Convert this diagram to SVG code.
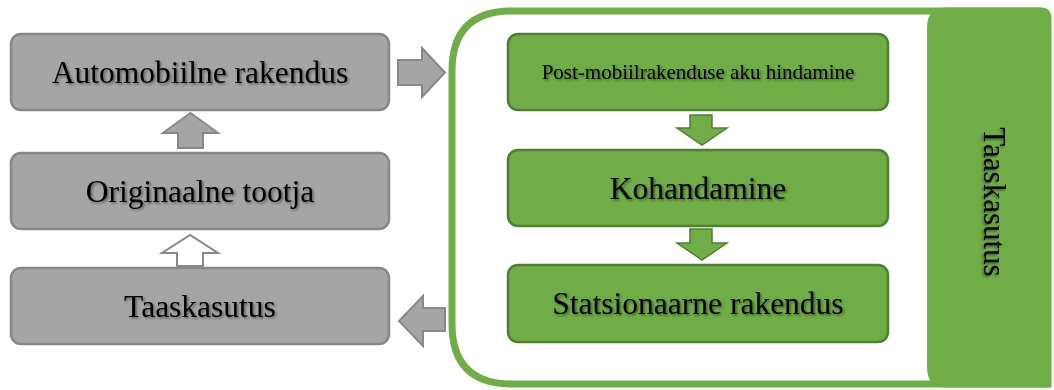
<svg xmlns="http://www.w3.org/2000/svg" width="1054" height="390" viewBox="0 0 1054 390">
<defs>
<style>
.gbox{fill:#A5A5A5;stroke:#888888;stroke-width:2.5}
.gnbox{fill:#70AD47;stroke:#507E32;stroke-width:2.5}
.garr{fill:#A5A5A5;stroke:#888888;stroke-width:2}
.warr{fill:#FFFFFF;stroke:#888888;stroke-width:2}
.gnarr{fill:#70AD47;stroke:#507E32;stroke-width:1.5}
.t{font-family:"Liberation Serif","Times New Roman",serif;fill:#000;text-anchor:middle;filter:url(#sh)}
</style>
<filter id="sh" x="-10%" y="-30%" width="120%" height="160%">
<feDropShadow dx="1.5" dy="1.5" stdDeviation="1.2" flood-color="#000" flood-opacity="0.45"/>
</filter>
</defs>
<rect width="1054" height="390" fill="#FFFFFF"/>
<g id="container">
<path d="M512,11 H1040 Q1048,11 1048,19 V384 H512 Q452,384 452,324 V71 Q452,11 512,11 Z" fill="#FFFFFF" stroke="#70AD47" stroke-width="7"/>
<path d="M947,7.5 H1040 Q1051,7.5 1051,18.5 V387.5 H947 Q927,387.5 927,367.5 V27.5 Q927,7.5 947,7.5 Z" fill="#70AD47"/>
<text class="t" font-size="31" transform="translate(984,202) rotate(90)" y="0">Taaskasutus</text>
</g>
<g id="n-automobiilne">
<rect class="gbox" x="11" y="34" width="378" height="76" rx="10"/>
<text class="t" x="200" y="83" font-size="31.5">Automobiilne rakendus</text>
</g>
<g id="n-originaalne">
<rect class="gbox" x="11" y="153" width="378" height="76" rx="10"/>
<text class="t" x="200" y="202" font-size="31.5">Originaalne tootja</text>
</g>
<g id="n-taaskasutus">
<rect class="gbox" x="11" y="268" width="378" height="76" rx="10"/>
<text class="t" x="200" y="317" font-size="31.5">Taaskasutus</text>
</g>
<g id="n-post">
<rect class="gnbox" x="508" y="34" width="380" height="76" rx="10"/>
<text class="t" x="698" y="79" font-size="21">Post-mobiilrakenduse aku hindamine</text>
</g>
<g id="n-kohandamine">
<rect class="gnbox" x="508" y="150" width="380" height="76" rx="10"/>
<text class="t" x="698" y="199" font-size="31.5">Kohandamine</text>
</g>
<g id="n-statsionaarne">
<rect class="gnbox" x="508" y="265" width="380" height="77" rx="10"/>
<text class="t" x="698" y="314" font-size="31.5">Statsionaarne rakendus</text>
</g>
<g id="connectors">
<path class="garr" d="M178,148 V133 H163 L190.5,113 L218,133 H203 V148 Z"/>
<path class="warr" d="M177,266 V253 H162 L190,235 L218,253 H203 V266 Z"/>
<path class="garr" d="M398,60 H422 V48 L445,72.5 L422,97 V85 H398 Z"/>
<path class="garr" d="M445,308 H423 V296 L399,321 L423,346 V331 H445 Z"/>
<path class="gnarr" d="M690,115 H712 V128 H727 L702,145 L677,128 H690 Z"/>
<path class="gnarr" d="M690,229 H712 V243 H727 L702,260 L677,243 H690 Z"/>
</g>
</svg>
